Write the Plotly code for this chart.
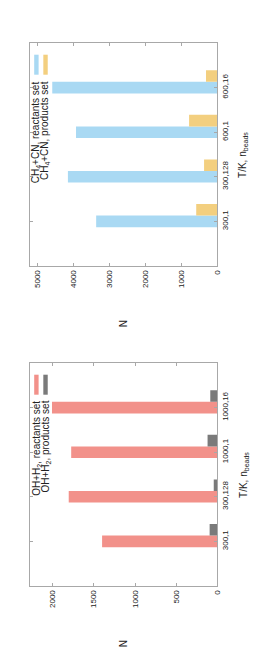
import plotly.graph_objects as go

# ---- data ----
cats_top = ["300,1", "300,128", "600,1", "600,16"]
ch4_reactants = [3370, 4155, 3930, 4590]
ch4_products = [590, 372, 788, 318]

cats_bot = ["300,1", "300,128", "1000,1", "1000,16"]
oh_reactants = [1400, 1805, 1775, 2008]
oh_products = [95, 45, 120, 87]

top_ticks = [0, 1000, 2000, 3000, 4000, 5000]
bot_ticks = [0, 500, 1000, 1500, 2000]

# ---- styling ----
W, H = 264, 660
FONT = "Liberation Sans, Arial, sans-serif"
TXT = "#222222"
FRAME = "#a8a8a8"
C_BLUE = "#a9d9f3"
C_ORANGE = "#f3cf7f"
C_RED = "#f2918a"
C_GRAY = "#7a7a7a"
BW = 0.26


def px(x):
    return x / W


def py(y):
    return 1 - y / H


fig = go.Figure()


def add_pair(cats, react, prod, c1, c2, xa, ya):
    fig.add_trace(go.Bar(y=cats, x=react, orientation="h", width=BW, offset=-BW / 2,
                         marker=dict(color=c1, line=dict(width=0)), xaxis=xa, yaxis=ya,
                         showlegend=False))
    fig.add_trace(go.Bar(y=cats, x=prod, orientation="h", width=BW, offset=BW / 2,
                         marker=dict(color=c2, line=dict(width=0)), xaxis=xa, yaxis=ya,
                         showlegend=False))


add_pair(cats_top, ch4_reactants, ch4_products, C_BLUE, C_ORANGE, "x", "y")
add_pair(cats_bot, oh_reactants, oh_products, C_RED, C_GRAY, "x2", "y2")

xdom = [px(22), px(213.5)]
common_x = dict(showline=True, mirror="ticks", linecolor=FRAME, linewidth=1,
                ticks="inside", ticklen=3, tickcolor=FRAME, tickangle=-90,
                showgrid=False, zeroline=False,
                tickfont=dict(family=FONT, size=8, color=TXT), domain=xdom)
common_y = dict(showline=True, mirror="ticks", linecolor=FRAME, linewidth=1,
                ticks="inside", ticklen=3, tickcolor=FRAME, tickangle=-90, side="right",
                showgrid=False, zeroline=False, type="category", range=[-1, 4],
                tickfont=dict(family=FONT, size=8, color=TXT))

fig.update_layout(
    width=W, height=H, margin=dict(l=0, r=0, t=0, b=0),
    paper_bgcolor="white", plot_bgcolor="white", barmode="overlay",
    showlegend=False,
    xaxis=dict(common_x, range=[5220, 0], tickvals=top_ticks, anchor="y"),
    yaxis=dict(common_y, domain=[py(258), py(35)], anchor="x", categoryarray=cats_top,
               categoryorder="array"),
    xaxis2=dict(common_x, range=[2280, 0], tickvals=bot_ticks, anchor="y2"),
    yaxis2=dict(common_y, domain=[py(578), py(355)], anchor="x2", categoryarray=cats_bot,
                categoryorder="array"),
)

ann = []
shapes = []


def rot_text(text, x, y, xanchor="center", yanchor="middle", size=10):
    ann.append(dict(text=text, x=px(x), y=py(y), xref="paper", yref="paper",
                    xanchor=xanchor, yanchor=yanchor, textangle=-90, showarrow=False,
                    font=dict(family=FONT, size=size, color=TXT)))


def swatch(x0, x1, y0, y1, color):
    shapes.append(dict(type="rect", xref="paper", yref="paper", x0=px(x0), x1=px(x1),
                       y0=py(y1), y1=py(y0), fillcolor=color, line=dict(width=0)))


for dy, (lab1, lab2, c1, c2) in zip(
        [0, 320],
        [("CH<sub>4</sub>+CN, reactants set", "CH<sub>4</sub>+CN, products set", C_BLUE, C_ORANGE),
         ("OH+H<sub>2</sub>, reactants set", "OH+H<sub>2</sub>, products set", C_RED, C_GRAY)]):
    swatch(26.7, 31.2, 46.7 + dy, 66.7 + dy, c1)
    swatch(36.0, 40.5, 46.7 + dy, 66.7 + dy, c2)
    rot_text(lab1, 28.8, 71.0 + dy, yanchor="top")
    rot_text(lab2, 38.3, 71.0 + dy, yanchor="top")
    rot_text("N", 117.5, 316 + dy)
    rot_text("T/K, n<sub>beads</sub>", 240, 146.5 + dy)

fig.update_layout(annotations=ann, shapes=shapes)
fig.write_html("out.html")
